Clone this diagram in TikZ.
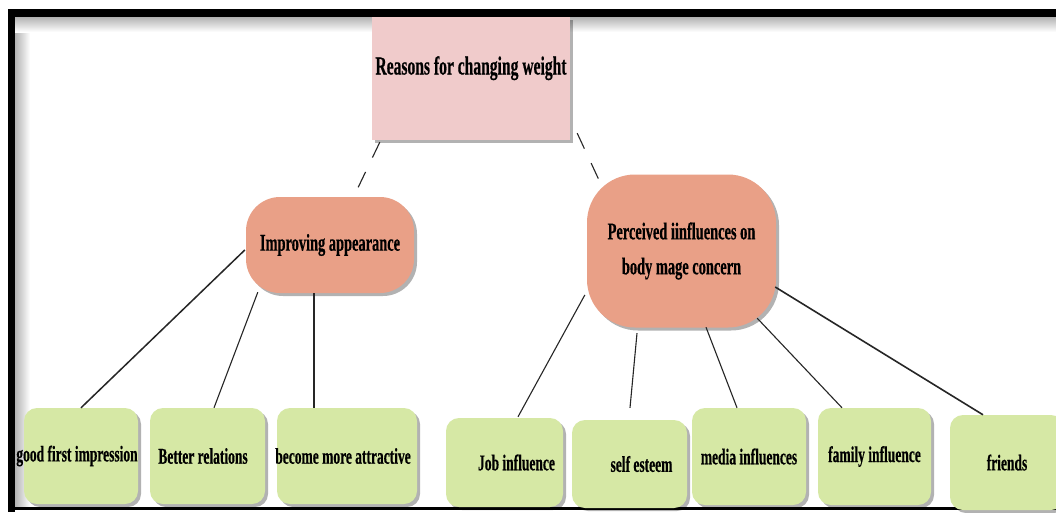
\documentclass[tikz,border=0pt]{standalone}
\usepackage{fontspec}
\newfontfamily\cond{Liberation Serif}[FakeStretch=0.6, BoldFeatures={FakeBold=0.4}]
\usetikzlibrary{shadows,calc}
\definecolor{rootpink}{HTML}{F0CBCB}
\definecolor{salmon}{HTML}{E9A087}
\definecolor{leaf}{HTML}{D6E8A5}
% text centred at a horizontal offset #1 from the node centre, taking no width
\newcommand\offtext[2]{\hbox to 0pt{\hss\kern#1\kern#1\relax #2\hss}}

\begin{document}
\begin{tikzpicture}[x=1pt,y=-1pt,
  lbl/.style={font=\cond\bfseries\fontsize{#1}{35}\selectfont, text=black},
  shad/.style={drop shadow={shadow xshift=3pt,shadow yshift=-3pt,fill=black,opacity=0.3}},
  rootbox/.style={lbl=26, shad, fill=rootpink, minimum width=198pt, minimum height=123pt, inner sep=0pt},
  midbox/.style={lbl=24, shad, fill=salmon, inner sep=0pt, align=center},
  leafbox/.style={lbl=22.5, shad, fill=leaf, rounded corners=13pt, inner sep=0pt},
  link/.style={draw=black!85, line width=1.1pt},
  dlink/.style={link, dash pattern=on 17pt off 16pt}]

\useasboundingbox (0,0) rectangle (1056,512);
\fill[white] (0,0) rectangle (1056,512);

% frame with its inner shading
\shade[left color=black!30, right color=white] (15,17) rectangle (30,507);
\shade[top color=black!30, bottom color=white] (15,17) rectangle (1056,32);
\fill[black] (8,9) rectangle (1056,17);
\fill[black] (8,9) rectangle (15,512);
\fill[black] (15,507) rectangle (1056,510);

% root
\node[rootbox, text height=18pt, text depth=26pt] (root) at (471,78.5) {Reasons for changing weight};

% second level
\node[midbox, rounded corners=34pt, minimum width=168pt, minimum height=96pt] (imp) at (330,245) {Improving appearance};
\node[midbox, rounded corners=48pt, minimum width=189pt, minimum height=153pt] (per) at (681.5,251) {Perceived iinfluences on\\body mage concern};

% leaves
\node[leafbox, minimum width=114pt, minimum height=96pt] (gfi) at (81,456) {\offtext{-4pt}{good first impression}};
\node[leafbox, minimum width=115pt, minimum height=96pt] (bet) at (207.5,456) {\offtext{-4.5pt}{Better relations}};
\node[leafbox, minimum width=140pt, minimum height=96pt] (bec) at (347,456) {\offtext{-4pt}{become more attractive}};
\node[leafbox, minimum width=117pt, minimum height=89pt] (job) at (504.5,462.5) {\offtext{12pt}{Job influence}};
\node[leafbox, minimum width=115pt, minimum height=88pt] (self) at (629.5,464) {\offtext{12pt}{self esteem}};
\node[leafbox, minimum width=114pt, minimum height=97pt] (med) at (749,456.5) {\offtext{0pt}{media influences}};
\node[leafbox, minimum width=113pt, minimum height=97pt] (fam) at (874.5,456.5) {\offtext{0pt}{family influence}};
\node[leafbox, minimum width=114pt, minimum height=95pt] (fri) at (1007,462.5) {\offtext{0pt}{friends}};

% dashed links from the root
\draw[dlink] ($(root.south west)+(8,2)$) -- ($(imp.north)+(27,-7)$);
\draw[dlink] ($(root.south east)+(7,-7)$) -- ($(per.north west)+(13,7.5)$);

% links to the leaves
\draw[link, line width=1.5pt] ($(imp.west)+(-1,5)$) -- (gfi.north);
\draw[link] ($(imp.south west)+(12,-1)$) -- ($(bet.north)+(6.5,0)$);
\draw[link] ($(imp.south)+(-16,0)$) -- ($(bec.north)+(-33,0)$);
\draw[link] ($(per.west)+(-2,44)$) -- ($(job.north)+(13.5,-1)$);
\draw[link] ($(per.south)+(-44.5,5.5)$) -- ($(self.north)+(0.5,-12)$);
\draw[link] ($(per.south)+(24.5,-0.5)$) -- ($(med.north)+(-12,0)$);
\draw[link] ($(per.south east)+(-19,-9.5)$) -- ($(fam.north)+(-32.5,0)$);
\draw[link, line width=1.6pt] ($(per.east)+(-1,36)$) -- ($(fri.north)+(-24,0)$);
\end{tikzpicture}
\end{document}
